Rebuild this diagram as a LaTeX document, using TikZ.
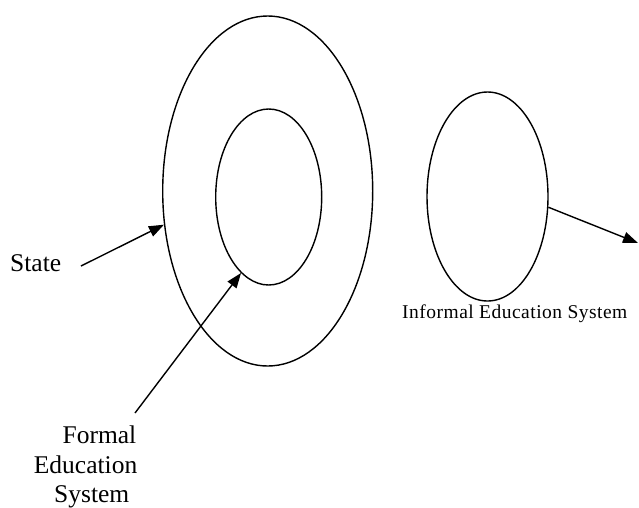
\documentclass[tikz,border=0pt]{standalone}
\usepackage{fontspec}
\setmainfont{Liberation Serif}
\usetikzlibrary{shapes.geometric,arrows.meta}

\tikzset{
  ring/.style={draw, ellipse, line width=1.4pt, inner sep=0pt},
  pointer/.style={line width=1.4pt, -{Triangle[length=15pt,width=11pt]}},
  biglabel/.style={inner sep=0pt, font=\fontsize{25.5}{29.5}\selectfont},
  smalllabel/.style={inner sep=0pt, font=\fontsize{19.5}{23}\selectfont\addfontfeature{LetterSpace=2.5}},
}

\begin{document}
\begin{tikzpicture}[x=1pt, y=-1pt]
  \useasboundingbox (0,0) rectangle (639,507);

  % the state with the formal system nested inside it
  \node[ring, minimum width=210pt, minimum height=350pt] (outer) at (267.7,191) {};
  \node[ring, minimum width=106pt, minimum height=176pt] (inner) at (268.7,197) {};
  % the informal system standing apart
  \node[ring, minimum width=121pt, minimum height=209pt] (informal) at (487.5,196.5) {};

  % labels
  \node[biglabel, anchor=base west] (statelbl) at (10,271) {State};
  \node[biglabel, anchor=base east] (formal1) at (136.5,443) {Formal};
  \node[biglabel, anchor=base east] (formal2) at (137.5,473) {Education};
  \node[biglabel, anchor=base east] (formal3) at (129.5,502) {System};
  \node[smalllabel, anchor=base west] (informallbl) at (402,318) {Informal Education System};

  % arrow end points
  \coordinate (statetail) at (81,266);
  \coordinate (formaltail) at (135,413);
  \coordinate (informaltip) at (638,243);

  \draw[pointer] (statetail) -- (outer.198.8);
  \draw[pointer] (formaltail) -- (inner.250.7);
  \draw[pointer] (informal.-10.8) -- (informaltip);
\end{tikzpicture}
\end{document}
